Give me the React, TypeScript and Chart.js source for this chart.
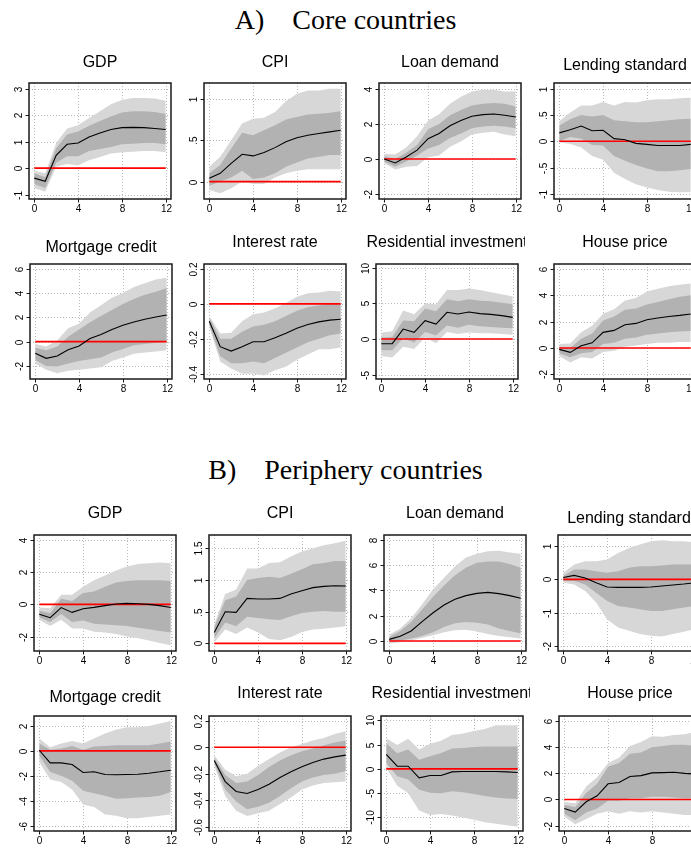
import React, { useEffect, useRef } from 'react';
import { Chart, registerables } from 'chart.js';

Chart.register(...registerables);

// ---------- shared axes ----------
const horizon = [0, 1, 2, 3, 4, 5, 6, 7, 8, 9, 10, 11, 12];
const xTicks = [0, 4, 8, 12];
const xTickLabels = ['0', '4', '8', '12'];

// ---------- A) Core countries ----------
const coreGdpMedian = [-0.38, -0.5, 0.48, 0.9, 0.95, 1.18, 1.33, 1.46, 1.53, 1.54, 1.53, 1.5, 1.46];
const coreGdpInnerHi = [-0.2, -0.35, 0.75, 1.27, 1.38, 1.6, 1.78, 1.95, 2.1, 2.15, 2.15, 2.12, 2.05];
const coreGdpInnerLo = [-0.6, -0.75, 0.2, 0.45, 0.45, 0.65, 0.72, 0.8, 0.9, 0.92, 0.95, 0.95, 0.9];
const coreGdpOuterHi = [-0.1, -0.2, 0.95, 1.5, 1.62, 1.9, 2.15, 2.42, 2.58, 2.65, 2.65, 2.63, 2.55];
const coreGdpOuterLo = [-0.75, -0.9, 0.05, 0.15, 0.1, 0.3, 0.42, 0.55, 0.6, 0.62, 0.65, 0.65, 0.6];

const coreCpiMedian = [0.04, 0.1, 0.22, 0.33, 0.31, 0.35, 0.41, 0.48, 0.53, 0.56, 0.58, 0.6, 0.62];
const coreCpiInnerHi = [0.1, 0.2, 0.4, 0.59, 0.56, 0.62, 0.68, 0.75, 0.78, 0.81, 0.82, 0.83, 0.85];
const coreCpiInnerLo = [-0.05, 0.0, 0.05, 0.13, 0.03, 0.05, 0.1, 0.18, 0.23, 0.28, 0.3, 0.32, 0.32];
const coreCpiOuterHi = [0.18, 0.3, 0.5, 0.7, 0.76, 0.77, 0.84, 0.97, 1.06, 1.1, 1.1, 1.12, 1.12];
const coreCpiOuterLo = [-0.1, -0.14, -0.08, 0.0, -0.03, -0.03, 0.05, 0.1, 0.13, 0.15, 0.15, 0.15, 0.15];

const coreLoanMedian = [0, -0.23, 0.11, 0.5, 1.16, 1.45, 1.9, 2.2, 2.44, 2.53, 2.57, 2.5, 2.4];
const coreLoanInnerHi = [0.15, 0.0, 0.35, 0.8, 1.7, 2.0, 2.5, 2.8, 3.05, 3.15, 3.2, 3.15, 3.0];
const coreLoanInnerLo = [-0.15, -0.45, -0.15, 0.2, 0.6, 0.8, 1.2, 1.45, 1.75, 1.85, 1.9, 1.85, 1.75];
const coreLoanOuterHi = [0.3, 0.25, 0.65, 1.3, 2.2, 2.55, 3.15, 3.55, 3.85, 3.95, 3.95, 3.85, 3.85];
const coreLoanOuterLo = [-0.25, -0.6, -0.45, -0.4, 0.1, 0.2, 0.7, 1.0, 1.4, 1.5, 1.55, 1.4, 1.3];

const coreLendMedian = [0.16, 0.22, 0.29, 0.2, 0.21, 0.05, 0.03, -0.04, -0.06, -0.08, -0.08, -0.08, -0.06];
const coreLendInnerHi = [0.3, 0.42, 0.5, 0.47, 0.5, 0.4, 0.38, 0.36, 0.36, 0.38, 0.4, 0.42, 0.43];
const coreLendInnerLo = [0.0, 0.08, 0.05, -0.07, -0.08, -0.28, -0.37, -0.45, -0.52, -0.57, -0.57, -0.55, -0.53];
const coreLendOuterHi = [0.38, 0.55, 0.68, 0.68, 0.75, 0.68, 0.75, 0.74, 0.78, 0.8, 0.8, 0.82, 0.83];
const coreLendOuterLo = [-0.02, -0.05, -0.12, -0.28, -0.35, -0.6, -0.72, -0.82, -0.88, -0.93, -0.96, -0.97, -0.97];

const coreMortMedian = [-0.96, -1.37, -1.18, -0.66, -0.36, 0.25, 0.58, 0.99, 1.34, 1.62, 1.84, 2.03, 2.19];
const coreMortInnerHi = [-0.5, -0.7, -0.4, 0.4, 1.0, 1.6, 2.1, 2.6, 3.1, 3.5, 3.85, 4.1, 4.4];
const coreMortInnerLo = [-1.5, -2.0, -2.05, -1.8, -1.6, -1.45, -1.3, -0.9, -0.6, -0.3, -0.2, -0.1, 0.0];
const coreMortOuterHi = [-0.2, -0.4, 0.1, 1.1, 1.5, 2.4, 3.0, 3.6, 4.0, 4.5, 4.8, 5.1, 5.25];
const coreMortOuterLo = [-1.8, -2.3, -2.6, -2.4, -2.3, -2.2, -2.1, -1.6, -1.3, -1.0, -0.9, -0.8, -0.7];

const coreRateMedian = [-0.1, -0.245, -0.27, -0.246, -0.217, -0.217, -0.194, -0.168, -0.139, -0.118, -0.103, -0.093, -0.088];
const coreRateInnerHi = [-0.08, -0.2, -0.2, -0.16, -0.13, -0.12, -0.1, -0.07, -0.04, -0.02, -0.01, 0.0, 0.0];
const coreRateInnerLo = [-0.12, -0.3, -0.34, -0.34, -0.33, -0.34, -0.31, -0.28, -0.25, -0.22, -0.2, -0.18, -0.17];
const coreRateOuterHi = [-0.07, -0.17, -0.165, -0.1, -0.06, -0.05, -0.025, 0.005, 0.04, 0.06, 0.065, 0.075, 0.07];
const coreRateOuterLo = [-0.13, -0.33, -0.37, -0.4, -0.4, -0.41, -0.38, -0.36, -0.32, -0.29, -0.26, -0.26, -0.25];

const coreResMedian = [-0.66, -0.66, 1.4, 0.94, 2.58, 2.1, 3.76, 3.52, 3.8, 3.57, 3.47, 3.29, 3.05];
const coreResInnerHi = [0.2, 0.3, 2.6, 2.5, 4.3, 3.9, 5.6, 5.3, 5.6, 5.4, 5.3, 5.1, 4.9];
const coreResInnerLo = [-1.6, -1.6, 0.1, -0.5, 1.0, 0.5, 1.9, 1.6, 2.0, 1.8, 1.7, 1.6, 1.5];
const coreResOuterHi = [0.9, 1.1, 4.0, 3.5, 5.0, 4.9, 6.9, 6.9, 7.1, 6.9, 6.6, 6.3, 6.0];
const coreResOuterLo = [-2.4, -2.6, -1.1, -1.4, 0.2, -0.6, 1.0, 0.7, 0.9, 0.8, 0.8, 0.7, 0.6];

const coreHouseMedian = [-0.1, -0.33, 0.18, 0.4, 1.19, 1.34, 1.77, 1.87, 2.15, 2.28, 2.4, 2.48, 2.58];
const coreHouseInnerHi = [0.1, 0.0, 0.7, 1.1, 2.1, 2.4, 2.9, 3.0, 3.3, 3.5, 3.7, 3.9, 4.0];
const coreHouseInnerLo = [-0.4, -0.7, -0.4, -0.3, 0.3, 0.4, 0.7, 0.8, 1.0, 1.1, 1.2, 1.25, 1.3];
const coreHouseOuterHi = [0.3, 0.35, 1.2, 1.7, 2.6, 2.95, 3.6, 3.8, 4.3, 4.5, 4.7, 4.8, 4.9];
const coreHouseOuterLo = [-0.6, -1.1, -0.7, -0.8, -0.3, -0.2, 0.1, 0.2, 0.3, 0.4, 0.4, 0.45, 0.45];

// ---------- B) Periphery countries ----------
const perGdpMedian = [-0.62, -0.83, -0.2, -0.5, -0.27, -0.19, -0.08, 0.02, 0.06, 0.04, 0, -0.08, -0.2];
const perGdpInnerHi = [-0.4, -0.55, 0.35, 0.2, 0.7, 0.8, 1.1, 1.35, 1.45, 1.5, 1.5, 1.5, 1.45];
const perGdpInnerLo = [-0.8, -1.1, -0.6, -1.1, -1.0, -1.2, -1.25, -1.3, -1.35, -1.45, -1.55, -1.65, -1.75];
const perGdpOuterHi = [-0.2, -0.25, 0.6, 0.6, 1.1, 1.5, 1.8, 2.1, 2.35, 2.5, 2.55, 2.6, 2.55];
const perGdpOuterLo = [-0.95, -1.35, -0.95, -1.5, -1.5, -1.7, -1.75, -1.85, -2.0, -2.1, -2.25, -2.4, -2.55];

const perCpiMedian = [0.17, 0.5, 0.49, 0.71, 0.7, 0.7, 0.71, 0.78, 0.83, 0.88, 0.9, 0.91, 0.905];
const perCpiInnerHi = [0.25, 0.68, 0.74, 1.0, 1.03, 1.05, 1.03, 1.1, 1.17, 1.25, 1.27, 1.3, 1.3];
const perCpiInnerLo = [0.08, 0.33, 0.27, 0.42, 0.4, 0.38, 0.37, 0.43, 0.48, 0.5, 0.51, 0.5, 0.5];
const perCpiOuterHi = [0.3, 0.78, 0.85, 1.18, 1.18, 1.27, 1.28, 1.37, 1.45, 1.5, 1.55, 1.58, 1.62];
const perCpiOuterLo = [0.02, 0.22, 0.15, 0.25, 0.17, 0.07, 0.05, 0.1, 0.18, 0.22, 0.23, 0.25, 0.27];

const perLoanMedian = [0.13, 0.37, 0.79, 1.53, 2.24, 2.85, 3.3, 3.59, 3.77, 3.85, 3.75, 3.59, 3.38];
const perLoanInnerHi = [0.3, 0.8, 1.5, 2.5, 3.5, 4.4, 5.2, 5.8, 6.2, 6.3, 6.3, 6.1, 5.8];
const perLoanInnerLo = [-0.05, 0.05, 0.2, 0.4, 0.7, 1.1, 1.4, 1.5, 1.45, 1.3, 1.0, 0.8, 0.6];
const perLoanOuterHi = [0.5, 1.0, 1.8, 2.9, 4.1, 5.0, 5.9, 6.6, 6.9, 7.1, 7.15, 7.0, 6.9];
const perLoanOuterLo = [-0.2, -0.1, 0.05, 0.25, 0.45, 0.7, 0.85, 0.9, 0.75, 0.55, 0.4, 0.3, 0.2];

const perLendMedian = [0.06, 0.12, 0.04, -0.1, -0.23, -0.24, -0.24, -0.24, -0.23, -0.2, -0.17, -0.14, -0.1];
const perLendInnerHi = [0.1, 0.3, 0.3, 0.25, 0.2, 0.25, 0.35, 0.4, 0.4, 0.42, 0.45, 0.45, 0.45];
const perLendInnerLo = [-0.05, -0.05, -0.15, -0.4, -0.65, -0.8, -0.85, -0.9, -0.95, -0.95, -0.9, -0.85, -0.8];
const perLendOuterHi = [0.2, 0.45, 0.55, 0.55, 0.6, 0.8, 0.95, 1.05, 1.15, 1.18, 1.15, 1.15, 1.12];
const perLendOuterLo = [-0.1, -0.15, -0.35, -0.7, -1.2, -1.45, -1.55, -1.65, -1.7, -1.72, -1.65, -1.58, -1.5];

const perMortMedian = [0.05, -0.96, -0.96, -1.09, -1.73, -1.68, -1.89, -1.92, -1.89, -1.87, -1.79, -1.68, -1.55];
const perMortInnerHi = [0.6, 0.1, 0.2, 0.4, 0.1, 0.35, 0.4, 0.45, 0.45, 0.45, 0.45, 0.6, 0.75];
const perMortInnerLo = [-0.4, -1.7, -2.0, -2.4, -3.2, -3.4, -3.6, -3.85, -3.8, -3.75, -3.7, -3.6, -3.3];
const perMortOuterHi = [1.0, 0.3, 0.6, 0.8, 0.6, 1.0, 1.4, 1.7, 1.9, 1.9, 2.0, 2.2, 2.4];
const perMortOuterLo = [-0.9, -2.3, -2.5, -3.1, -4.3, -4.5, -5.1, -5.2, -5.4, -5.4, -5.3, -5.2, -5.1];

const perRateMedian = [-0.1, -0.26, -0.335, -0.35, -0.32, -0.28, -0.23, -0.186, -0.148, -0.116, -0.09, -0.073, -0.06];
const perRateInnerHi = [-0.08, -0.21, -0.27, -0.26, -0.21, -0.15, -0.1, -0.06, -0.03, -0.01, 0.015, 0.035, 0.05];
const perRateInnerLo = [-0.12, -0.32, -0.41, -0.47, -0.45, -0.42, -0.37, -0.31, -0.26, -0.23, -0.21, -0.2, -0.18];
const perRateOuterHi = [-0.06, -0.17, -0.22, -0.2, -0.14, -0.09, -0.04, 0.0, 0.025, 0.05, 0.07, 0.1, 0.12];
const perRateOuterLo = [-0.14, -0.37, -0.48, -0.52, -0.5, -0.48, -0.43, -0.38, -0.32, -0.29, -0.27, -0.265, -0.26];

const perResMedian = [3.0, 0.55, 0.55, -1.85, -1.37, -1.37, -0.62, -0.55, -0.55, -0.55, -0.55, -0.62, -0.75];
const perResInnerHi = [5.3, 3.2, 4.0, 1.9, 2.6, 3.3, 4.2, 4.3, 4.5, 4.6, 4.6, 4.6, 4.6];
const perResInnerLo = [1.2, -1.5, -2.2, -4.3, -4.9, -5.0, -4.6, -4.8, -5.2, -5.6, -5.9, -6.1, -6.2];
const perResOuterHi = [6.3, 4.9, 6.2, 4.0, 5.2, 5.8, 7.0, 7.3, 7.8, 8.2, 9.0, 9.0, 9.0];
const perResOuterLo = [0.3, -3.5, -5.0, -8.6, -9.5, -9.3, -9.6, -10.0, -10.5, -11.0, -11.3, -11.6, -11.9];

const perHouseMedian = [-0.69, -0.97, -0.18, 0.28, 1.2, 1.3, 1.76, 1.83, 2.04, 2.06, 2.09, 2.0, 1.94];
const perHouseInnerHi = [-0.4, -0.6, 0.5, 1.2, 2.5, 2.8, 3.5, 3.6, 4.0, 4.1, 4.2, 4.2, 4.1];
const perHouseInnerLo = [-1.1, -1.6, -1.0, -0.7, -0.1, -0.1, 0.1, 0.1, 0.2, 0.2, 0.15, 0.1, 0.1];
const perHouseOuterHi = [-0.2, -0.3, 1.0, 1.7, 2.8, 3.2, 4.1, 4.4, 4.85, 4.8, 4.95, 5.0, 5.2];
const perHouseOuterLo = [-1.3, -1.9, -1.5, -1.1, -0.9, -1.1, -0.9, -1.0, -0.9, -1.0, -1.1, -1.2, -1.2];

// ---------- styling ----------
const LIGHT = '#d7d7d7';
const DARK = '#b2b2b2';
const SANS = '"Liberation Sans", Arial, Helvetica, sans-serif';

type Panel = {
  title: string;
  median: number[];
  innerHi: number[];
  innerLo: number[];
  outerHi: number[];
  outerLo: number[];
  yMin: number;
  yMax: number;
  yTicks: number[];
  yLabels: string[];
  left: number;
  boxTop: number;
  boxBottom: number;
  titleBase: number;
};

const BOX_W = 142;
const PAD_L = 26;
const PAD_R = 7;
const PAD_B = 22;

const panels: Panel[] = [
  // row 1
  { title: 'GDP', median: coreGdpMedian, innerHi: coreGdpInnerHi, innerLo: coreGdpInnerLo, outerHi: coreGdpOuterHi, outerLo: coreGdpOuterLo,
    yMin: -1.17, yMax: 3.22, yTicks: [-1, 0, 1, 2, 3], yLabels: ['-1', '0', '1', '2', '3'], left: 29, boxTop: 83, boxBottom: 199, titleBase: 67 },
  { title: 'CPI', median: coreCpiMedian, innerHi: coreCpiInnerHi, innerLo: coreCpiInnerLo, outerHi: coreCpiOuterHi, outerLo: coreCpiOuterLo,
    yMin: -0.21, yMax: 1.19, yTicks: [0, 0.5, 1], yLabels: ['0', '.5', '1'], left: 204, boxTop: 83, boxBottom: 199, titleBase: 67 },
  { title: 'Loan demand', median: coreLoanMedian, innerHi: coreLoanInnerHi, innerLo: coreLoanInnerLo, outerHi: coreLoanOuterHi, outerLo: coreLoanOuterLo,
    yMin: -2.29, yMax: 4.34, yTicks: [-2, 0, 2, 4], yLabels: ['-2', '0', '2', '4'], left: 379, boxTop: 83, boxBottom: 199, titleBase: 67 },
  { title: 'Lending standard', median: coreLendMedian, innerHi: coreLendInnerHi, innerLo: coreLendInnerLo, outerHi: coreLendOuterHi, outerLo: coreLendOuterLo,
    yMin: -1.1, yMax: 1.11, yTicks: [-1, -0.5, 0, 0.5, 1], yLabels: ['-1', '-.5', '0', '.5', '1'], left: 554, boxTop: 83, boxBottom: 199, titleBase: 70 },
  // row 2
  { title: 'Mortgage credit', median: coreMortMedian, innerHi: coreMortInnerHi, innerLo: coreMortInnerLo, outerHi: coreMortOuterHi, outerLo: coreMortOuterLo,
    yMin: -3.07, yMax: 6.38, yTicks: [-2, 0, 2, 4, 6], yLabels: ['-2', '0', '2', '4', '6'], left: 30, boxTop: 264, boxBottom: 379, titleBase: 252 },
  { title: 'Interest rate', median: coreRateMedian, innerHi: coreRateInnerHi, innerLo: coreRateInnerLo, outerHi: coreRateOuterHi, outerLo: coreRateOuterLo,
    yMin: -0.43, yMax: 0.228, yTicks: [-0.4, -0.2, 0, 0.2], yLabels: ['-0.4', '-0.2', '0', '0.2'], left: 204, boxTop: 264, boxBottom: 379, titleBase: 247 },
  { title: 'Residential investment', median: coreResMedian, innerHi: coreResInnerHi, innerLo: coreResInnerLo, outerHi: coreResOuterHi, outerLo: coreResOuterLo,
    yMin: -5.63, yMax: 10.56, yTicks: [-5, 0, 5, 10], yLabels: ['-5', '0', '5', '10'], left: 376, boxTop: 264, boxBottom: 379, titleBase: 247 },
  { title: 'House price', median: coreHouseMedian, innerHi: coreHouseInnerHi, innerLo: coreHouseInnerLo, outerHi: coreHouseOuterHi, outerLo: coreHouseOuterLo,
    yMin: -2.35, yMax: 6.38, yTicks: [-2, 0, 2, 4, 6], yLabels: ['-2', '0', '2', '4', '6'], left: 554, boxTop: 264, boxBottom: 379, titleBase: 247 },
  // row 3
  { title: 'GDP', median: perGdpMedian, innerHi: perGdpInnerHi, innerLo: perGdpInnerLo, outerHi: perGdpOuterHi, outerLo: perGdpOuterLo,
    yMin: -2.9, yMax: 4.31, yTicks: [-2, 0, 2, 4], yLabels: ['-2', '0', '2', '4'], left: 34, boxTop: 535, boxBottom: 651, titleBase: 518 },
  { title: 'CPI', median: perCpiMedian, innerHi: perCpiInnerHi, innerLo: perCpiInnerLo, outerHi: perCpiOuterHi, outerLo: perCpiOuterLo,
    yMin: -0.12, yMax: 1.71, yTicks: [0, 0.5, 1, 1.5], yLabels: ['0', '.5', '1', '1.5'], left: 209, boxTop: 535, boxBottom: 651, titleBase: 518 },
  { title: 'Loan demand', median: perLoanMedian, innerHi: perLoanInnerHi, innerLo: perLoanInnerLo, outerHi: perLoanOuterHi, outerLo: perLoanOuterLo,
    yMin: -0.79, yMax: 8.39, yTicks: [0, 2, 4, 6, 8], yLabels: ['0', '2', '4', '6', '8'], left: 384, boxTop: 535, boxBottom: 651, titleBase: 518 },
  { title: 'Lending standard', median: perLendMedian, innerHi: perLendInnerHi, innerLo: perLendInnerLo, outerHi: perLendOuterHi, outerLo: perLendOuterLo,
    yMin: -2.16, yMax: 1.34, yTicks: [-2, -1, 0, 1], yLabels: ['-2', '-1', '0', '1'], left: 558, boxTop: 535, boxBottom: 651, titleBase: 523 },
  // row 4
  { title: 'Mortgage credit', median: perMortMedian, innerHi: perMortInnerHi, innerLo: perMortInnerLo, outerHi: perMortOuterHi, outerLo: perMortOuterLo,
    yMin: -6.43, yMax: 2.8, yTicks: [-6, -4, -2, 0, 2], yLabels: ['-6', '-4', '-2', '0', '2'], left: 34, boxTop: 716, boxBottom: 831, titleBase: 702 },
  { title: 'Interest rate', median: perRateMedian, innerHi: perRateInnerHi, innerLo: perRateInnerLo, outerHi: perRateOuterHi, outerLo: perRateOuterLo,
    yMin: -0.634, yMax: 0.236, yTicks: [-0.6, -0.4, -0.2, 0, 0.2], yLabels: ['-0.6', '-0.4', '-0.2', '0', '0.2'], left: 209, boxTop: 716, boxBottom: 831, titleBase: 698 },
  { title: 'Residential investment', median: perResMedian, innerHi: perResInnerHi, innerLo: perResInnerLo, outerHi: perResOuterHi, outerLo: perResOuterLo,
    yMin: -12.8, yMax: 10.9, yTicks: [-10, -5, 0, 5, 10], yLabels: ['-10', '-5', '0', '5', '10'], left: 381, boxTop: 716, boxBottom: 831, titleBase: 698 },
  { title: 'House price', median: perHouseMedian, innerHi: perHouseInnerHi, innerLo: perHouseInnerLo, outerHi: perHouseOuterHi, outerLo: perHouseOuterLo,
    yMin: -2.42, yMax: 6.4, yTicks: [-2, 0, 2, 4, 6], yLabels: ['-2', '0', '2', '4', '6'], left: 559, boxTop: 716, boxBottom: 831, titleBase: 698 },
];

const toPoints = (ys: number[]) => horizon.map((x, i) => ({ x, y: ys[i] }));

const decorPlugin = {
  id: 'decor',
  beforeDatasetsDraw(chart: any, _args: any, opts: any) {
    const { ctx, chartArea } = chart;
    const xs = chart.scales.x;
    const ys = chart.scales.y;
    ctx.save();
    ctx.strokeStyle = '#b8b8b8';
    ctx.lineWidth = 1;
    ctx.setLineDash([1, 2]);
    xTicks.forEach((v) => {
      const px = Math.round(xs.getPixelForValue(v)) + 0.5;
      ctx.beginPath();
      ctx.moveTo(px, chartArea.top);
      ctx.lineTo(px, chartArea.bottom);
      ctx.stroke();
    });
    (opts.yTicks as number[]).forEach((v) => {
      const py = Math.round(ys.getPixelForValue(v)) + 0.5;
      ctx.beginPath();
      ctx.moveTo(chartArea.left, py);
      ctx.lineTo(chartArea.right, py);
      ctx.stroke();
    });
    ctx.restore();
  },
  afterDraw(chart: any, _args: any, opts: any) {
    const { ctx, chartArea } = chart;
    const xs = chart.scales.x;
    const ys = chart.scales.y;
    ctx.save();
    // frame
    ctx.strokeStyle = '#1a1a1a';
    ctx.lineWidth = 1.5;
    ctx.setLineDash([]);
    ctx.strokeRect(chartArea.left, chartArea.top, chartArea.right - chartArea.left, chartArea.bottom - chartArea.top);
    // ticks + labels
    ctx.lineWidth = 1;
    ctx.fillStyle = '#000';
    ctx.font = `10px ${SANS}`;
    xTicks.forEach((v, i) => {
      const px = Math.round(xs.getPixelForValue(v)) + 0.5;
      ctx.beginPath();
      ctx.moveTo(px, chartArea.bottom);
      ctx.lineTo(px, chartArea.bottom + 3.5);
      ctx.stroke();
      ctx.textAlign = 'center';
      ctx.textBaseline = 'middle';
      ctx.fillText(xTickLabels[i], px, chartArea.bottom + 10);
    });
    (opts.yTicks as number[]).forEach((v, i) => {
      const py = Math.round(ys.getPixelForValue(v)) + 0.5;
      ctx.beginPath();
      ctx.moveTo(chartArea.left - 3.5, py);
      ctx.lineTo(chartArea.left, py);
      ctx.stroke();
      ctx.save();
      ctx.translate(chartArea.left - 10, py);
      ctx.rotate(-Math.PI / 2);
      ctx.textAlign = 'center';
      ctx.textBaseline = 'middle';
      ctx.fillText(opts.yLabels[i], 0, 0);
      ctx.restore();
    });
    // title
    ctx.font = `16px ${SANS}`;
    ctx.textAlign = 'center';
    ctx.textBaseline = 'alphabetic';
    ctx.fillText(opts.title, (chartArea.left + chartArea.right) / 2, opts.titleY);
    ctx.restore();
  },
};

function PanelChart({ p }: { p: Panel }) {
  const ref = useRef<HTMLCanvasElement | null>(null);
  const top = Math.round(p.titleBase - 22);
  const height = p.boxBottom + PAD_B - top;
  const width = BOX_W + PAD_L + PAD_R;
  useEffect(() => {
    if (!ref.current) return;
    const chart = new Chart(ref.current, {
      type: 'line',
      data: {
        datasets: [
          { data: toPoints(p.median), borderColor: '#000', borderWidth: 1.1, pointRadius: 0, fill: false, tension: 0 },
          { data: [{ x: horizon[0], y: 0 }, { x: horizon[horizon.length - 1], y: 0 }], borderColor: '#ff0000', borderWidth: 1.6, pointRadius: 0, fill: false },
          { data: toPoints(p.innerHi), borderWidth: 0, borderColor: 'rgba(0,0,0,0)', backgroundColor: DARK, pointRadius: 0, fill: '+1' },
          { data: toPoints(p.innerLo), borderWidth: 0, borderColor: 'rgba(0,0,0,0)', pointRadius: 0, fill: false },
          { data: toPoints(p.outerHi), borderWidth: 0, borderColor: 'rgba(0,0,0,0)', backgroundColor: LIGHT, pointRadius: 0, fill: '+1' },
          { data: toPoints(p.outerLo), borderWidth: 0, borderColor: 'rgba(0,0,0,0)', pointRadius: 0, fill: false },
        ],
      } as any,
      options: {
        animation: false,
        responsive: false,
        events: [],
        layout: { padding: { left: PAD_L, right: PAD_R, top: p.boxTop - top, bottom: PAD_B } },
        scales: {
          x: { type: 'linear', min: -0.48, max: 12.48, display: false },
          y: { type: 'linear', min: p.yMin, max: p.yMax, display: false },
        },
        plugins: {
          legend: { display: false },
          tooltip: { enabled: false },
          decor: { yTicks: p.yTicks, yLabels: p.yLabels, title: p.title, titleY: p.titleBase - top },
        } as any,
      },
      plugins: [decorPlugin],
    });
    return () => chart.destroy();
  }, [p]);
  return (
    <canvas
      ref={ref}
      width={width}
      height={height}
      style={{ position: 'absolute', left: p.left - PAD_L, top, width, height }}
    />
  );
}

const sectionStyle: React.CSSProperties = {
  position: 'absolute',
  left: 0,
  width: 691,
  textAlign: 'center',
  fontFamily: '"Liberation Serif", "DejaVu Serif", serif',
  fontSize: 28,
  lineHeight: '30px',
  whiteSpace: 'pre',
  color: '#000',
};

export default function App() {
  return (
    <div style={{ position: 'fixed', left: 0, top: 0, width: 691, height: 848, overflow: 'hidden', background: '#fff' }}>
      <div style={{ ...sectionStyle, left: 0, top: 5 }}>{'A)    Core countries'}</div>
      <div style={{ ...sectionStyle, left: 0, top: 455 }}>{'B)    Periphery countries'}</div>
      {panels.map((p, i) => (
        <PanelChart key={i} p={p} />
      ))}
    </div>
  );
}
